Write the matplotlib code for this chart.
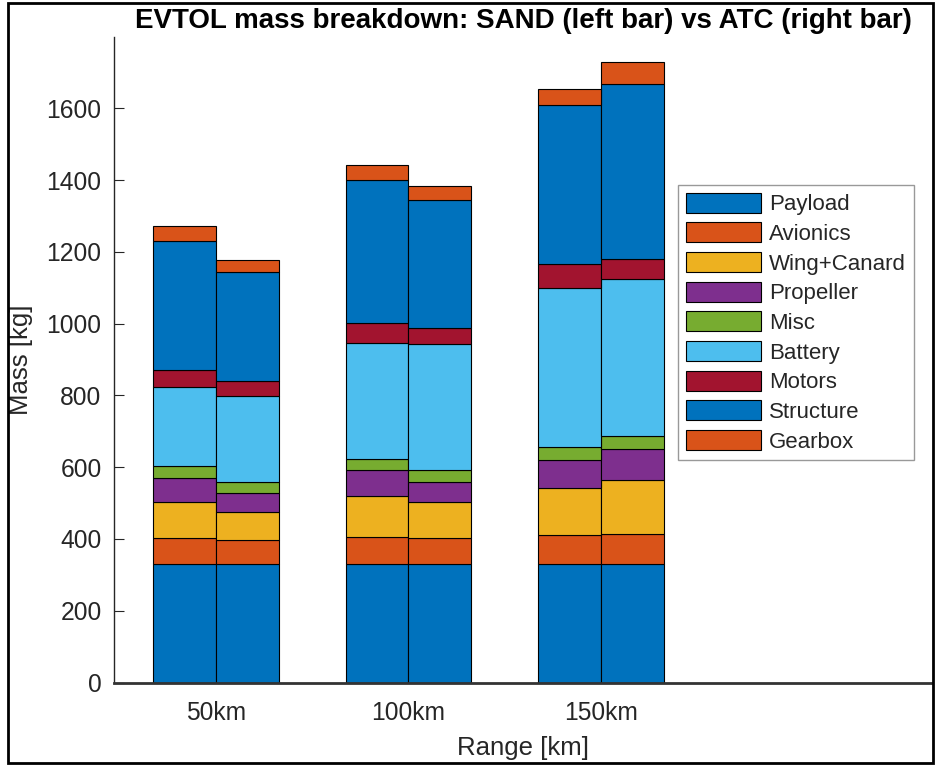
import numpy as np
import matplotlib
matplotlib.use("Agg")
import matplotlib.pyplot as plt
from matplotlib.patches import Rectangle

plt.rcParams['font.family'] = ['Liberation Sans', 'DejaVu Sans']

# Mission ranges (one group of two bars per range)
ranges = ['50km', '100km', '150km']

# Mass components, stacked from the bottom up
components = ['Payload', 'Avionics', 'Wing+Canard', 'Propeller', 'Misc',
              'Battery', 'Motors', 'Structure', 'Gearbox']

# Component masses [kg], one row per component, one column per range
sand_mass = [
    [330, 330, 330],   # Payload
    [72, 76, 80],      # Avionics
    [101, 115, 131],   # Wing+Canard
    [67, 70, 80],      # Propeller
    [33, 33, 34],      # Misc
    [219, 322, 444],   # Battery
    [49, 57, 67],      # Motors
    [360, 397, 444],   # Structure
    [40, 42, 45],      # Gearbox
]
atc_mass = [
    [330, 330, 330],   # Payload
    [68, 74, 85],      # Avionics
    [78, 98, 150],     # Wing+Canard
    [51, 57, 86],      # Propeller
    [32, 34, 36],      # Misc
    [239, 349, 438],   # Battery
    [43, 46, 56],      # Motors
    [303, 356, 486],   # Structure
    [32, 40, 61],      # Gearbox
]

# MATLAB default colour order (wraps after seven colours)
matlab_colors = ['#0072BD', '#D95319', '#EDB120', '#7E2F8E', '#77AC30',
                 '#4DBEEE', '#A2142F']
colors = [matlab_colors[i % len(matlab_colors)] for i in range(len(components))]

W, H = 935, 765
fig = plt.figure(figsize=(W / 100, H / 100), dpi=100)
fig.patch.set_facecolor('white')

ax_left, ax_right = 114 / W, 932 / W
ax_bot, ax_top = (H - 682.5) / H, (H - 36.5) / H
ax = fig.add_axes([ax_left, ax_bot, ax_right - ax_left, ax_top - ax_bot])

x = np.arange(1, len(ranges) + 1)
width = 0.327
offset = width / 2

sand = np.array(sand_mass, dtype=float)
atc = np.array(atc_mass, dtype=float)
sand_bottom = np.zeros(len(ranges))
atc_bottom = np.zeros(len(ranges))
handles = []
for i, name in enumerate(components):
    h = ax.bar(x - offset, sand[i], width, bottom=sand_bottom, color=colors[i],
               edgecolor='black', linewidth=0.8, label=name)
    ax.bar(x + offset, atc[i], width, bottom=atc_bottom, color=colors[i],
           edgecolor='black', linewidth=0.8)
    sand_bottom += sand[i]
    atc_bottom += atc[i]
    handles.append(h)

ax.set_xlim(0.47, 4.72)
ax.set_ylim(0, 1800)
ax.set_yticks(np.arange(0, 1601, 200))
ax.set_xticks(x)
ax.set_xticklabels(ranges)

text_color = '#262626'
ax.tick_params(axis='y', direction='in', length=7, width=0.8, colors=text_color,
               labelsize=17.7, pad=9)
ax.tick_params(axis='x', length=0, colors=text_color, labelsize=17.7, pad=13)

for side in ('top', 'right'):
    ax.spines[side].set_visible(False)
ax.spines['left'].set_color(text_color)
ax.spines['left'].set_linewidth(1.0)
ax.spines['bottom'].set_color('#333333')
ax.spines['bottom'].set_linewidth(2.0)

ax.set_xlabel('Range [km]', fontsize=18.5, color=text_color, labelpad=8)
ax.set_ylabel('Mass [kg]', fontsize=18.5, color=text_color, labelpad=10)
ax.set_title('EVTOL mass breakdown: SAND (left bar) vs ATC (right bar)',
             fontsize=20, fontweight='bold', color='black', pad=6)

leg = ax.legend(handles=handles, loc='upper left',
                bbox_to_anchor=((678 - 114) / 818, (682.5 - 185) / 646),
                borderaxespad=0, fontsize=16, frameon=True, fancybox=False,
                handlelength=3.4, handleheight=1.0, handletextpad=0.35,
                labelspacing=0.32, borderpad=0.35)
leg.get_frame().set_edgecolor('#808080')
leg.get_frame().set_linewidth(1.0)
for t in leg.get_texts():
    t.set_color(text_color)

# Outer black frame around the whole figure
fig.patches.append(Rectangle((7.5 / W, 2 / H), (933 - 7.5) / W, (763 - 2.5) / H,
                             transform=fig.transFigure, fill=False,
                             edgecolor='black', linewidth=2.0))

fig.savefig('out.png', dpi=100, facecolor='white')
